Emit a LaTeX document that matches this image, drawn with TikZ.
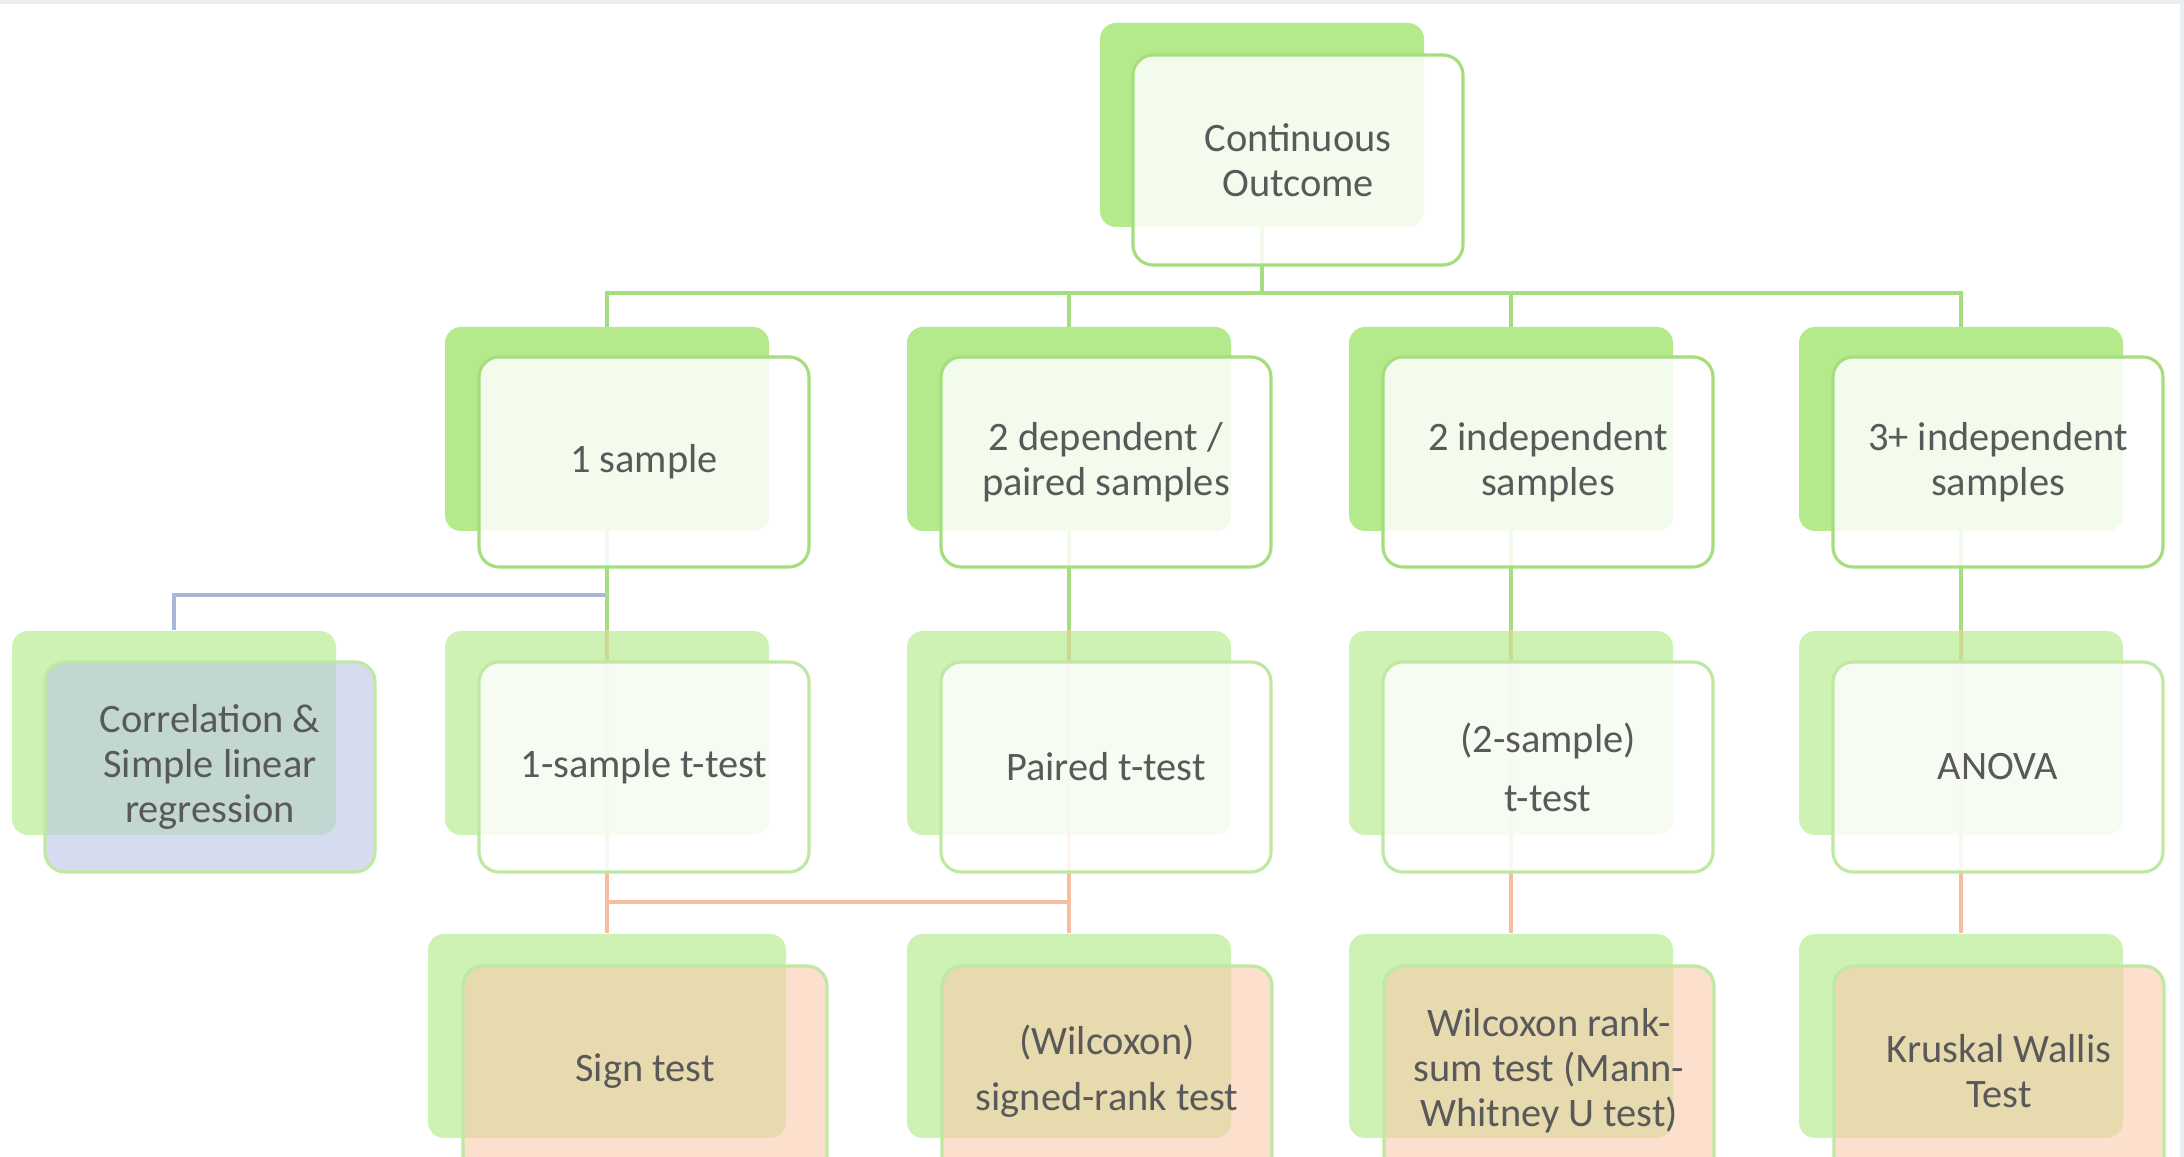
\documentclass[tikz,border=0pt]{standalone}
\usepackage{fontspec}
\setmainfont{Carlito}
\usetikzlibrary{backgrounds}
\definecolor{gback}{HTML}{B5EA8C}
\definecolor{gline}{HTML}{A6DE7F}
\definecolor{glite}{HTML}{BFE9A3}
\definecolor{peach}{HTML}{FACBAC}
\definecolor{lav}{HTML}{BBC6E6}
\definecolor{lblue}{HTML}{A9B6DC}
\definecolor{lorange}{HTML}{F5BEA0}
\definecolor{txt}{HTML}{595959}
\definecolor{frame}{HTML}{EAEEF1}

\begin{document}
\begin{tikzpicture}[
  backbox/.style={rounded corners=0.16cm,minimum width=3.24cm,minimum height=2.04cm,inner sep=0pt,fill=gback},
  backlite/.style={backbox,fill opacity=0.65},
  frontbox/.style={rounded corners=0.2cm,minimum width=3.3cm,minimum height=2.1cm,inner sep=0pt,
    draw=gline,line width=0.9pt,fill=white,fill opacity=0.85,text opacity=1,text=txt,align=center,
    font=\fontsize{11.5}{12.8}\selectfont},
  frontlite/.style={frontbox,draw=glite},
  frontpeach/.style={frontlite,fill=peach,fill opacity=0.6},
  linkg/.style={gline,line width=1pt},
  linkb/.style={lblue,line width=1pt},
  linko/.style={lorange,line width=1pt}]
\useasboundingbox (0,0) rectangle (21.84,11.57);
\clip (0,0) rectangle (21.84,11.57);

\node[backbox] (top-b) at (12.62,10.32) {};
\node[frontbox] (top) at (12.98,9.97) {Continuous\\Outcome};

\foreach \x/\n/\lbl in {6.07/one/1 sample,10.69/dep/{2 dependent /\\paired samples},
    15.11/ind/{2 independent\\samples},19.61/three/{3+ independent\\samples}} {
  \node[backbox] (\n-b) at (\x,7.28) {};
  \node[frontbox] (\n) at (\x+0.37,6.95) {\lbl};
}

\node[backlite] (corr-b) at (1.74,4.24) {};
\node[frontlite,fill=lav,fill opacity=0.6] (corr) at (2.10,3.90) {Correlation \&\\Simple linear\\regression};
\foreach \x/\n/\lbl in {6.07/tone/1-sample t-test,10.69/paired/Paired t-test,
    15.11/ttwo/{(2-sample)\\[4pt]t-test},19.61/anova/ANOVA} {
  \node[backlite] (\n-b) at (\x,4.24) {};
  \node[frontlite] (\n) at (\x+0.37,3.90) {\lbl};
}

\foreach \x/\w/\n/\lbl in {6.07/3.58/sign/Sign test,10.69/3.24/wsr/{(Wilcoxon)\\[3pt]signed-rank test},
    15.11/3.24/wrs/{Wilcoxon rank-\\sum test (Mann-\\Whitney U test)},19.61/3.24/kw/{Kruskal Wallis\\Test}} {
  \node[backlite,minimum width=\w cm] (\n-b) at (\x,1.21) {};
  \node[frontpeach,minimum width=\w cm+0.06cm] (\n) at (\x+0.38,0.86) {\lbl};
}

\begin{scope}[on background layer]
  \fill[white] (0,0) rectangle (21.84,11.57);
  \fill[frame] (0,11.53) rectangle (21.84,11.57);
  \fill[frame] (21.80,0) rectangle (21.84,11.57);
  \coordinate (jtop) at (12.62,8.64);
  \coordinate (jcor) at (6.07,5.62);
  \coordinate (jpair) at (10.69,2.55);
  \foreach \n in {one,dep,ind,three} \draw[linkg] (top-b.center) -- (jtop) -| (\n-b.center);
  \draw[linkb] (jcor) -| (corr-b.north);
  \foreach \a/\b in {one/tone,dep/paired,ind/ttwo,three/anova} \draw[linkg] (\a-b.center) -- (\b-b.north);
  \foreach \a/\b in {tone/sign,paired/wsr,ttwo/wrs,anova/kw} \draw[linko] (\a-b.north) -- (\b-b.north);
  \draw[linko] (paired-b.north) -- (jpair) -| (sign-b.north);
\end{scope}
\end{tikzpicture}
\end{document}
